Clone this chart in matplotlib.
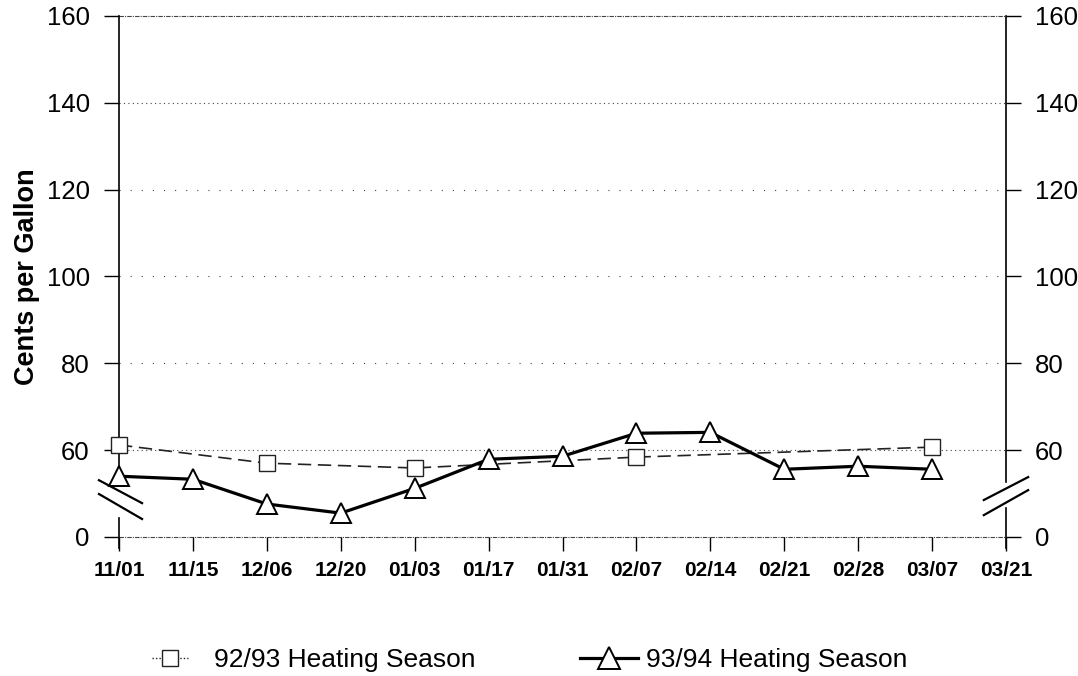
#!/usr/bin/env python
"""Heating oil price: 92/93 vs 93/94 heating season, cents per gallon."""

import numpy as np
import matplotlib
matplotlib.use("Agg")
import matplotlib.pyplot as plt
from matplotlib.lines import Line2D

plt.rcParams["font.family"] = ["Liberation Sans", "DejaVu Sans"]

dates = ["11/01", "11/15", "12/06", "12/20", "01/03", "01/17", "01/31",
         "02/07", "02/14", "02/21", "02/28", "03/07", "03/21"]

# 92/93 season only has readings on some of the dates
season_9293 = [61.2, np.nan, 57.0, np.nan, 55.9, np.nan, np.nan,
               58.4, np.nan, np.nan, np.nan, 60.7, np.nan]
season_9394 = [54.0, 53.3, 47.6, 45.5, 51.2, 57.9, 58.6,
               63.9, 64.1, 55.6, 56.3, 55.6, np.nan]

# the axis is broken: everything below 60 is squeezed into the 0-60 band
y_ticks = [40, 60, 80, 100, 120, 140, 160]
y_labels = ["0", "60", "80", "100", "120", "140", "160"]


def main() -> int:
    fig = plt.figure(figsize=(10.78, 6.76), dpi=100)
    ax = fig.add_axes([119 / 1078, 1 - 537 / 676, 887 / 1078, 521 / 676])

    x = np.arange(len(dates))
    ax.set_xlim(0, len(dates) - 1)
    ax.set_ylim(40, 160)

    # horizontal guide lines
    styles = {40: (0, (4, 1, 1, 1)), 60: (0, (1, 3)), 80: (0, (1, 9)),
              100: (0, (1, 9)), 120: (0, (1, 9)), 140: (0, (1, 3)),
              160: (0, (4, 1, 1, 1))}
    for yv, ls in styles.items():
        ax.axhline(yv, color="#444444", lw=0.8, ls=ls, zorder=1,
                   clip_on=False)

    a = np.array(season_9293)
    m = ~np.isnan(a)
    ax.plot(x[m], a[m], color="#222222", lw=1.2, ls=(0, (8, 4)),
            marker="s", ms=11, mfc="white", mec="#222222", mew=1.0,
            zorder=3, clip_on=False)

    b = np.array(season_9394)
    m = ~np.isnan(b)
    ax.plot(x[m], b[m], color="black", lw=2.3, marker="^", ms=15,
            mfc="white", mec="black", mew=1.4, zorder=4, clip_on=False)

    ax.set_xticks(x)
    ax.set_xticklabels(dates, fontsize=15, fontweight="bold")
    ax.set_yticks(y_ticks)
    ax.set_yticklabels(y_labels, fontsize=18.5)
    ax.tick_params(axis="x", direction="out", length=10, width=1, pad=7,
                   bottom=True, top=False)
    ax.tick_params(axis="y", direction="out", length=11, width=1, pad=10,
                   left=True, right=True, labelleft=True, labelright=True)

    for s in ax.spines.values():
        s.set_visible(False)

    # vertical axis lines with a gap for the break
    tr = ax.transAxes
    for xs, gap_bot, gap_top in ((0.0, 0.036, 0.106), (1.0, 0.056, 0.106)):
        ax.add_line(Line2D([xs, xs], [-0.021, gap_bot], transform=tr,
                           color="black", lw=1.2, clip_on=False))
        ax.add_line(Line2D([xs, xs], [gap_top, 1.0], transform=tr,
                           color="black", lw=1.2, clip_on=False))

    # break marks
    for y0, y1 in ((0.109, 0.065), (0.0825, 0.0345)):
        ax.add_line(Line2D([-0.0226, 0.026], [y0, y1], transform=tr,
                           color="black", lw=1.6, clip_on=False))
    for y0, y1 in ((0.071, 0.115), (0.042, 0.090)):
        ax.add_line(Line2D([0.975, 1.025], [y0, y1], transform=tr,
                           color="black", lw=1.6, clip_on=False))

    ax.set_ylabel("Cents per Gallon", fontsize=19.5, fontweight="bold",
                  labelpad=5)

    # two legend entries placed separately
    h1 = Line2D([], [], color="#222222", lw=1.0, ls=(0, (1, 1.5)), marker="s",
                ms=11, mfc="white", mec="#222222", mew=1.0)
    h2 = Line2D([], [], color="black", lw=2.3, marker="^", ms=16,
                mfc="white", mec="black", mew=1.4)
    y_leg = 1 - 660 / 676
    fig.legend([h1], ["92/93 Heating Season"], loc="center left",
               bbox_to_anchor=(152 / 1078, y_leg), frameon=False,
               fontsize=19, handlelength=1.36, handletextpad=1.0,
               borderpad=0, borderaxespad=0)
    fig.legend([h2], ["93/94 Heating Season"], loc="center left",
               bbox_to_anchor=(580 / 1078, y_leg), frameon=False,
               fontsize=19, handlelength=2.2, handletextpad=0.3,
               borderpad=0, borderaxespad=0)

    fig.savefig("out.png", dpi=100)
    plt.close(fig)
    return 0


if __name__ == "__main__":
    raise SystemExit(main())
